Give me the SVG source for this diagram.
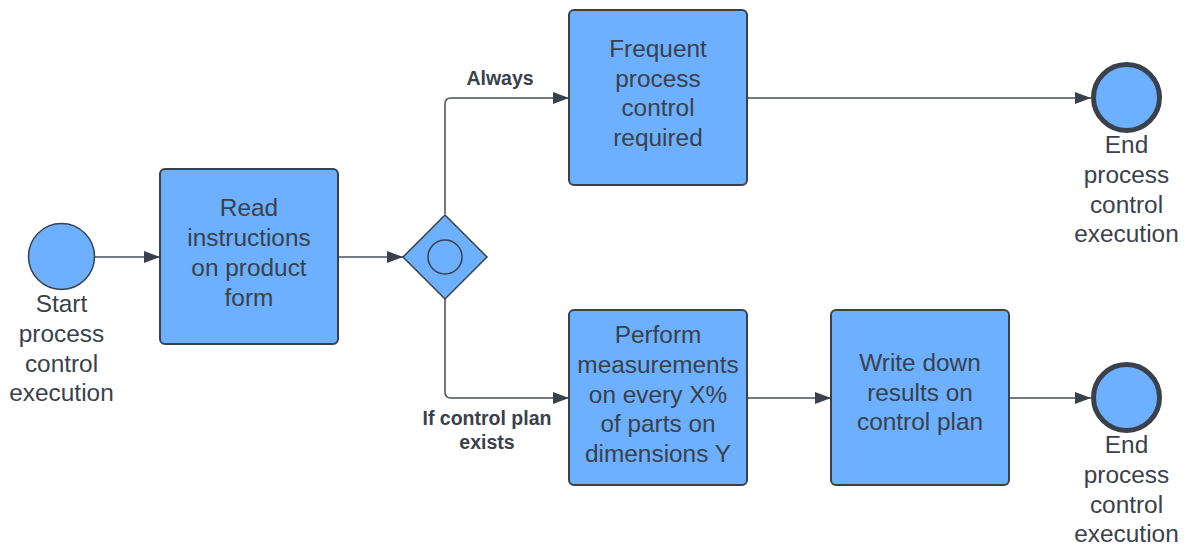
<svg xmlns="http://www.w3.org/2000/svg" width="1186" height="546" viewBox="0 0 1186 546">
  <defs>
    <marker id="arrow" viewBox="0 0 16 12" refX="16" refY="6" markerWidth="16" markerHeight="12" markerUnits="userSpaceOnUse" orient="auto">
      <path d="M0,0 L16,6 L0,12 Z" fill="#3a414a"/>
    </marker>
    <style>
      .task { fill: #6cb0ff; stroke: #3a414a; stroke-width: 2; }
      .event { fill: #6cb0ff; stroke: #3a414a; stroke-width: 1.5; }
      .end { fill: #6cb0ff; stroke: #3a414a; stroke-width: 5; }
      .gate { fill: #6cb0ff; stroke: #3a414a; stroke-width: 1.5; }
      .label { font-family: "Liberation Sans", Arial, sans-serif; font-size: 24.4px; fill: #3a414a; text-anchor: middle; }
      .edge-label { font-family: "Liberation Sans", Arial, sans-serif; font-size: 19.5px; font-weight: bold; fill: #3a414a; text-anchor: middle; }
      .conn { fill: none; stroke: #474e5a; stroke-width: 1.5; marker-end: url(#arrow); }
    </style>
  </defs>
  <rect width="1186" height="546" fill="#ffffff"/>

  <g id="connectors">
    <path class="conn" d="M95,257 L160,257"/>
    <path class="conn" d="M338,257 L403,257"/>
    <path class="conn" d="M445,214 L445,104 Q445,98 451,98 L569,98"/>
    <path class="conn" d="M445,299 L445,392 Q445,398 451,398 L569,398"/>
    <path class="conn" d="M747,98 L1091,98"/>
    <path class="conn" d="M747,398 L831,398"/>
    <path class="conn" d="M1009,398 L1091,398"/>
    <text class="edge-label" x="500" y="85">Always</text>
    <text class="edge-label" x="487" y="425">If control plan</text>
    <text class="edge-label" x="487" y="449">exists</text>
  </g>

  <g id="start">
    <circle class="event" cx="61.5" cy="256.5" r="33"/>
    <text class="label" x="61.5" y="312">Start</text>
    <text class="label" x="61.5" y="342">process</text>
    <text class="label" x="61.5" y="372">control</text>
    <text class="label" x="61.5" y="401">execution</text>
  </g>

  <g id="read-instructions">
    <rect class="task" x="160" y="169" width="178" height="175" rx="5"/>
    <text class="label" x="249" y="216">Read</text>
    <text class="label" x="249" y="246">instructions</text>
    <text class="label" x="249" y="276">on product</text>
    <text class="label" x="249" y="306">form</text>
  </g>

  <g id="gateway">
    <polygon class="gate" points="445,215 487,257 445,299 403,257"/>
    <circle cx="445" cy="257" r="17" fill="none" stroke="#3a414a" stroke-width="1.5"/>
  </g>

  <g id="frequent-control">
    <rect class="task" x="569" y="10" width="178" height="175" rx="5"/>
    <text class="label" x="658" y="57">Frequent</text>
    <text class="label" x="658" y="87">process</text>
    <text class="label" x="658" y="116">control</text>
    <text class="label" x="658" y="146">required</text>
  </g>

  <g id="perform-measurements">
    <rect class="task" x="569" y="310" width="178" height="175" rx="5"/>
    <text class="label" x="658" y="343">Perform</text>
    <text class="label" x="658" y="373">measurements</text>
    <text class="label" x="658" y="403">on every X%</text>
    <text class="label" x="658" y="432">of parts on</text>
    <text class="label" x="658" y="462">dimensions Y</text>
  </g>

  <g id="write-results">
    <rect class="task" x="831" y="310" width="178" height="175" rx="5"/>
    <text class="label" x="920" y="371">Write down</text>
    <text class="label" x="920" y="401">results on</text>
    <text class="label" x="920" y="430">control plan</text>
  </g>

  <g id="end-frequent">
    <circle class="end" cx="1126.5" cy="97.5" r="33"/>
    <text class="label" x="1126.5" y="153">End</text>
    <text class="label" x="1126.5" y="183">process</text>
    <text class="label" x="1126.5" y="213">control</text>
    <text class="label" x="1126.5" y="242">execution</text>
  </g>

  <g id="end-measured">
    <circle class="end" cx="1126.5" cy="397.5" r="33"/>
    <text class="label" x="1126.5" y="453">End</text>
    <text class="label" x="1126.5" y="483">process</text>
    <text class="label" x="1126.5" y="513">control</text>
    <text class="label" x="1126.5" y="542">execution</text>
  </g>
</svg>
